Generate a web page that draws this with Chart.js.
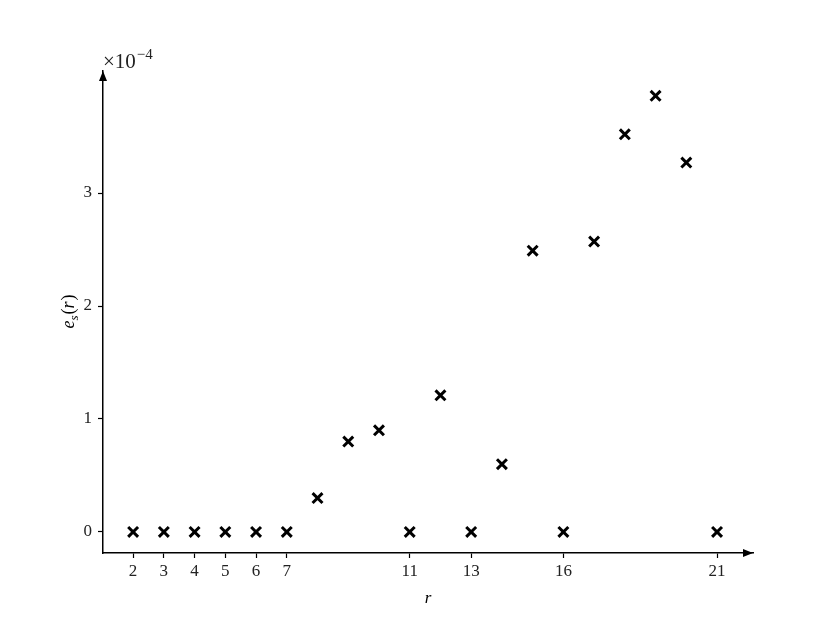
<!DOCTYPE html>
<html>
<head>
<meta charset="utf-8">
<script src="https://cdn.jsdelivr.net/npm/chart.js@4"></script>
<style>
  html, body { margin: 0; padding: 0; background: #fff; }
  #wrap { width: 830px; height: 623px; }
</style>
</head>
<body>
<div id="wrap"><canvas id="myChart" width="830" height="623"></canvas></div>
<script>
  // r values and e_s(r) in units of 1e-4
  const rValues = [2, 3, 4, 5, 6, 7, 8, 9, 10, 11, 12, 13, 14, 15, 16, 17, 18, 19, 20, 21];
  const esValues = [0, 0, 0, 0, 0, 0, 0.30, 0.80, 0.90, 0, 1.21, 0, 0.60, 2.49, 0, 2.57, 3.52, 3.86, 3.27, 0];

  const xTicks = [2, 3, 4, 5, 6, 7, 11, 13, 16, 21];
  const yTicks = [0, 1, 2, 3];

  const serif = "'Liberation Serif', 'DejaVu Serif', serif";

  const points = rValues.map((r, i) => ({ x: r, y: esValues[i] }));

  // arrows on the axes + math-style labels
  const decor = {
    id: 'decor',
    afterDraw(chart) {
      const ctx = chart.ctx;
      const a = chart.chartArea;
      ctx.save();
      ctx.fillStyle = '#000';
      // x arrow
      ctx.beginPath();
      ctx.moveTo(a.right, a.bottom);
      ctx.lineTo(a.right - 10, a.bottom - 4);
      ctx.lineTo(a.right - 10, a.bottom + 4);
      ctx.closePath();
      ctx.fill();
      // y arrow
      ctx.beginPath();
      ctx.moveTo(a.left, a.top);
      ctx.lineTo(a.left - 4, a.top + 10);
      ctx.lineTo(a.left + 4, a.top + 10);
      ctx.closePath();
      ctx.fill();

      // x10^-4
      ctx.textBaseline = 'alphabetic';
      ctx.textAlign = 'left';
      ctx.fillStyle = '#222';
      ctx.font = '21px ' + serif;
      ctx.fillText('×10', a.left, a.top - 3);
      const w = ctx.measureText('×10').width;
      ctx.font = '15px ' + serif;
      ctx.fillText('−4', a.left + w + 1, a.top - 12);
      ctx.fillStyle = '#000';

      // x title
      ctx.font = 'italic 17px ' + serif;
      ctx.textAlign = 'center';
      ctx.fillText('r', (a.left + a.right) / 2, 603);

      // y title, rotated
      ctx.translate(74, (a.top + a.bottom) / 2);
      ctx.rotate(-Math.PI / 2);
      ctx.textAlign = 'left';
      ctx.font = 'italic 18px ' + serif;
      const w1 = ctx.measureText('e').width;
      ctx.font = 'italic 13px ' + serif;
      const w2 = ctx.measureText('s').width;
      ctx.font = '18px ' + serif;
      const w3 = ctx.measureText('(r)').width;
      let x0 = -(w1 + w2 + w3 + 2) / 2;
      ctx.font = 'italic 18px ' + serif;
      ctx.fillText('e', x0, 0);
      x0 += w1;
      ctx.font = 'italic 13px ' + serif;
      ctx.fillText('s', x0, 4);
      x0 += w2 + 1;
      ctx.font = '18px ' + serif;
      ctx.fillText('(', x0, 0);
      const wp = ctx.measureText('(').width;
      ctx.font = 'italic 18px ' + serif;
      ctx.fillText('r', x0 + wp, 0);
      const wr = ctx.measureText('r').width;
      ctx.font = '18px ' + serif;
      ctx.fillText(')', x0 + wp + wr + 1, 0);
      ctx.restore();
    }
  };

  const config = {
    type: 'scatter',
    data: {
      datasets: [{
        label: 'es',
        data: points,
        pointStyle: 'crossRot',
        pointRadius: 7,
        pointHoverRadius: 7,
        borderColor: '#000',
        backgroundColor: '#000',
        borderWidth: 3,
        pointBorderWidth: 3,
      }]
    },
    options: {
      responsive: false,
      animation: false,
      layout: {
        padding: { top: 71, right: 77, left: 0, bottom: 0 }
      },
      plugins: {
        legend: { display: false },
        tooltip: { enabled: false }
      },
      scales: {
        x: {
          type: 'linear',
          min: 1.02,
          max: 22.17,
          afterBuildTicks: (s) => { s.ticks = xTicks.map(v => ({ value: v })); },
          afterFit: (s) => { s.height = 70; },
          grid: {
            display: true,
            drawOnChartArea: false,
            drawTicks: true,
            tickLength: 5,
            tickWidth: 1.2,
            tickColor: '#000'
          },
          border: { display: true, color: '#000', width: 1.5 },
          ticks: {
            color: '#222',
            font: { family: serif, size: 17 },
            padding: 3,
            maxRotation: 0,
            autoSkip: false
          }
        },
        y: {
          type: 'linear',
          min: -0.186,
          max: 4.08,
          afterBuildTicks: (s) => { s.ticks = yTicks.map(v => ({ value: v })); },
          afterFit: (s) => { s.width = 103; },
          grid: {
            display: true,
            drawOnChartArea: false,
            drawTicks: true,
            tickLength: 5,
            tickWidth: 1.2,
            tickColor: '#000'
          },
          border: { display: true, color: '#000', width: 1.5 },
          ticks: {
            color: '#222',
            font: { family: serif, size: 17 },
            padding: 6,
            autoSkip: false
          }
        }
      }
    },
    plugins: [decor]
  };

  const myChart = new Chart(document.getElementById('myChart'), config);
</script>
</body>
</html>
